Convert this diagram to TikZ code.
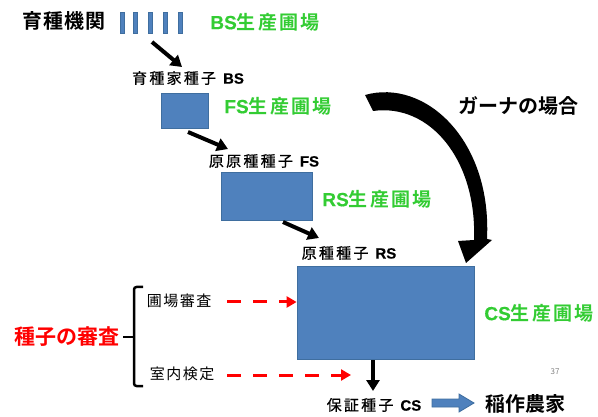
\documentclass[tikz,border=0pt]{standalone}
\usepackage{fontspec}
\setmainfont{Noto Sans CJK JP}[BoldFont={* Bold}]
\newfontfamily\latinbold{Liberation Sans}[FakeBold=0.4]
\newcommand\spaced[2]{{\addfontfeature{LetterSpace=#1}#2}}
\newcommand\lat[1]{\kern7pt{\latinbold\bfseries #1}}
\usetikzlibrary{arrows.meta}
\definecolor{boxblue}{HTML}{4F81BD}
\definecolor{boxedge}{HTML}{3F6E9F}
\definecolor{fieldgreen}{HTML}{33CC33}
\definecolor{checkred}{HTML}{FF0000}
\tikzset{
  px/.style={x=1pt,y=-1pt},
  plot/.style={draw=boxedge,fill=boxblue,line width=0.8pt,inner sep=0pt},
  bar/.style={plot,minimum width=4pt,minimum height=21pt},
  seedlabel/.style={inner sep=0pt,font=\fontsize{15}{15}\selectfont\addfontfeature{FakeBold=0.6}},
  checklabel/.style={inner sep=0pt,font=\fontsize{15}{15}\selectfont\addfontfeature{LetterSpace=10}},
  fieldlabel/.style={inner sep=0pt,text=fieldgreen,font=\bfseries\fontsize{19}{19}\selectfont},
  biglabel/.style={inner sep=0pt,font=\bfseries\fontsize{20}{20}\selectfont},
  flow/.style={line width=4pt,-{Triangle[length=11pt,width=13pt]}},
  check/.style={line width=3pt,checkred,dash pattern=on 14pt off 12pt,-{Triangle[length=10pt,width=11pt]}}
}
\begin{document}
\begin{tikzpicture}[px]
\useasboundingbox (0,0) rectangle (598,417);
% top row
\node[biglabel] (org) at (64,21) {\spaced{6}{育種機関}};
\foreach \i/\x in {1/122,2/135,3/150,4/165,5/180}{
  \node[bar] (b\i) at (\x,22.5) {};
}
\node[fieldlabel] (bsf) at (265,22) {{\latinbold\bfseries BS}\spaced{12}{生産圃場}};
% breeder seed
\node[seedlabel] (bs) at (188,78) {\spaced{15}{育種家種子}\lat{BS}};
\node[plot,minimum width=47pt,minimum height=35pt] (box1) at (184.5,110.5) {};
\node[fieldlabel] (fsf) at (278,106) {{\latinbold\bfseries FS}\spaced{12}{生産圃場}};
% foundation seed
\node[seedlabel] (fs) at (264,161) {\spaced{15}{原原種種子}\lat{FS}};
\node[plot,minimum width=91pt,minimum height=48pt] (box2) at (266.5,196) {};
\node[fieldlabel] (rsf) at (377,199) {{\latinbold\bfseries RS}\spaced{12}{生産圃場}};
% registered seed
\node[seedlabel] (rs) at (349,253) {\spaced{15}{原種種子}\lat{RS}};
\node[plot,minimum width=177pt,minimum height=93pt] (box3) at (385.5,312.5) {};
\node[fieldlabel] (csf) at (539,313) {{\latinbold\bfseries CS}\spaced{12}{生産圃場}};
\node[inner sep=0pt,text=gray,font=\fontsize{8}{8}\selectfont] (pg) at (555,372) {37};
% certified seed
\node[seedlabel] (cs) at (374,405) {\spaced{15}{保証種子}\lat{CS}};
\node[biglabel] (farm) at (525,404) {稲作農家};
% inspection
\node[inner sep=0pt,text=checkred,font=\bfseries\fontsize{21}{21}\selectfont] (insp) at (67,337) {種子の審査};
\node[checklabel] (fieldchk) at (179,301) {圃場審査};
\node[checklabel] (labchk) at (182,374) {室内検定};
% Ghana
\node[inner sep=0pt,font=\bfseries\fontsize{20}{20}\selectfont] (ghana) at (518,106) {ガーナの場合};

% coordinates for connectors
\coordinate (a1s) at (152,42);
\coordinate (a1e) at (182,67);
\coordinate (a2s) at (188,132);
\coordinate (a2e) at (228,149);
\coordinate (a3s) at (283,222);
\coordinate (a3e) at (319,238);
\coordinate (a4s) at (373,360);
\coordinate (a4e) at (373,391);
\coordinate (r1s) at (227,302);
\coordinate (r2s) at (227,375);
\coordinate (r2e) at (351,375);

\draw[flow] (a1s) -- (a1e);
\draw[flow] (a2s) -- (a2e);
\draw[flow] (a3s) -- (a3e);
\draw[flow] (a4s) -- (a4e);
\draw[check] (r1s) -- (r1s -| box3.west);
\draw[check] (r2s) -- (r2e);

% brace
\draw[line width=2.5pt,rounded corners=2.5pt] (143,287) -- (134,287) -- (134,386) -- (143,386);
\draw[line width=2.5pt] (134,337) -- (123,337);

% block arrow to farmers
\fill[boxblue,draw=boxedge,line width=0.8pt] (432,399) -- (459,399) -- (459,394) -- (474,403) -- (459,412) -- (459,407) -- (432,407) -- cycle;

% curved Ghana arrow
\fill[black] (365,95) .. controls (425,78) and (492,140) .. (487,239)
  -- (492,240) -- (466,263) -- (458,241) -- (474,240)
  .. controls (477,160) and (430,103) .. (373,111) -- cycle;
\end{tikzpicture}
\end{document}
